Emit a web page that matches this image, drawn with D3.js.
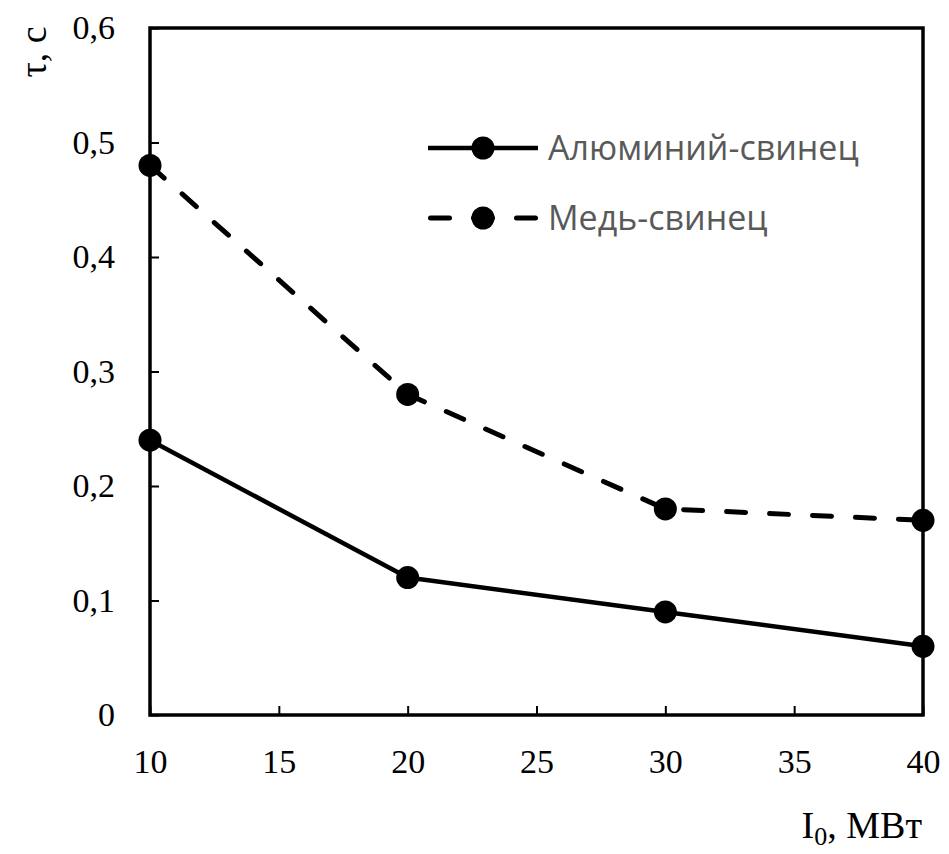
<!DOCTYPE html>
<html><head><meta charset="utf-8">
<script src="https://cdn.jsdelivr.net/npm/d3@7"></script>
<style>body{margin:0;background:#fff}</style>
</head><body>
<svg id="c" width="949" height="854"></svg>
<script>
const xValues = [10, 20, 30, 40];
const alPb = [0.24, 0.12, 0.09, 0.06];
const cuPb = [0.48, 0.28, 0.18, 0.17];
const xTicks = [10, 15, 20, 25, 30, 35, 40];
const yTicks = [0, 0.1, 0.2, 0.3, 0.4, 0.5, 0.6];
const seriesNames = ["Алюминий-свинец", "Медь-свинец"];

const svg = d3.select("#c");
const L = 150, R = 923, T = 28, B = 715;
const x = d3.scaleLinear().domain([10, 40]).range([L, R]);
const y = d3.scaleLinear().domain([0, 0.6]).range([B, T]);
const serif = "'Liberation Serif','Times New Roman',serif";

// axes with inner ticks
const xAxis = d3.axisBottom(x).tickValues(xTicks).tickSize(-9).tickPadding(0).tickFormat(d3.format("d"));
const gx = svg.append("g").attr("transform", `translate(0,${B})`).call(xAxis);
gx.attr("font-family", null).attr("font-size", null);
gx.select(".domain").remove();
gx.selectAll(".tick line").attr("stroke", "#000").attr("stroke-width", 2);
gx.selectAll(".tick text").style("font-family", serif).style("font-size", "34px").attr("fill", "#000").attr("dy", 0).attr("y", 58);

const yAxis = d3.axisLeft(y).tickValues(yTicks).tickSize(-9).tickPadding(0).tickFormat(d => d === 0 ? "0" : d3.format(".1f")(d).replace(".", ","));
const gy = svg.append("g").attr("transform", `translate(${L},0)`).call(yAxis);
gy.attr("font-family", null).attr("font-size", null);
gy.select(".domain").remove();
gy.selectAll(".tick line").attr("stroke", "#000").attr("stroke-width", 2);
gy.selectAll(".tick text").style("font-family", serif).style("font-size", "34px").attr("fill", "#000").attr("x", -35).attr("dy", "0.32em");

// frame
svg.append("rect").attr("x", L).attr("y", T).attr("width", R - L).attr("height", B - T)
  .attr("fill", "none").attr("stroke", "#000").attr("stroke-width", 3.5);

const line = d3.line().x((d, i) => x(xValues[i])).y(d => y(d));

svg.append("path").datum(cuPb).attr("d", line).attr("fill", "none").attr("stroke", "#000")
  .attr("stroke-width", 5).attr("stroke-dasharray", "19,24").attr("stroke-linecap", "round");
svg.append("path").datum(alPb).attr("d", line).attr("fill", "none").attr("stroke", "#000")
  .attr("stroke-width", 4.5).attr("stroke-linejoin", "round");

[alPb, cuPb].forEach(s => {
  svg.append("g").selectAll("circle").data(s).join("circle")
    .attr("cx", (d, i) => x(xValues[i])).attr("cy", d => y(d)).attr("r", 11.5).attr("fill", "#000");
});

// legend
const lg = svg.append("g");
const ly = [148, 218];
lg.append("line").attr("x1", 428).attr("x2", 538).attr("y1", ly[0]).attr("y2", ly[0]).attr("stroke", "#000").attr("stroke-width", 4.5);
lg.append("line").attr("x1", 430.5).attr("x2", 535.5).attr("y1", ly[1]).attr("y2", ly[1]).attr("stroke", "#000").attr("stroke-width", 5)
  .attr("stroke-dasharray", "19,24").attr("stroke-linecap", "round");
ly.forEach(v => lg.append("circle").attr("cx", 483).attr("cy", v).attr("r", 11.5).attr("fill", "#000"));
seriesNames.forEach((n, i) => lg.append("text").attr("x", 548).attr("y", ly[i]).attr("dy", "0.36em")
  .style("font-family", "'Open Sans','Noto Sans',sans-serif").style("font-size", "34px").attr("fill", "#595959").text(n));

// axis titles
svg.append("text").attr("transform", "translate(46,52) rotate(-90)").attr("text-anchor", "middle")
  .style("font-family", serif).style("font-size", "38px").attr("fill", "#000").text("τ, с");
const xt = svg.append("text").attr("x", 922).attr("y", 838).attr("text-anchor", "end")
  .style("font-family", serif).style("font-size", "38px").attr("fill", "#000");
xt.append("tspan").text("I");
xt.append("tspan").style("font-size", "26px").attr("dy", 7).text("0");
xt.append("tspan").attr("dy", -7).text(", МВт");
</script>
</body></html>
